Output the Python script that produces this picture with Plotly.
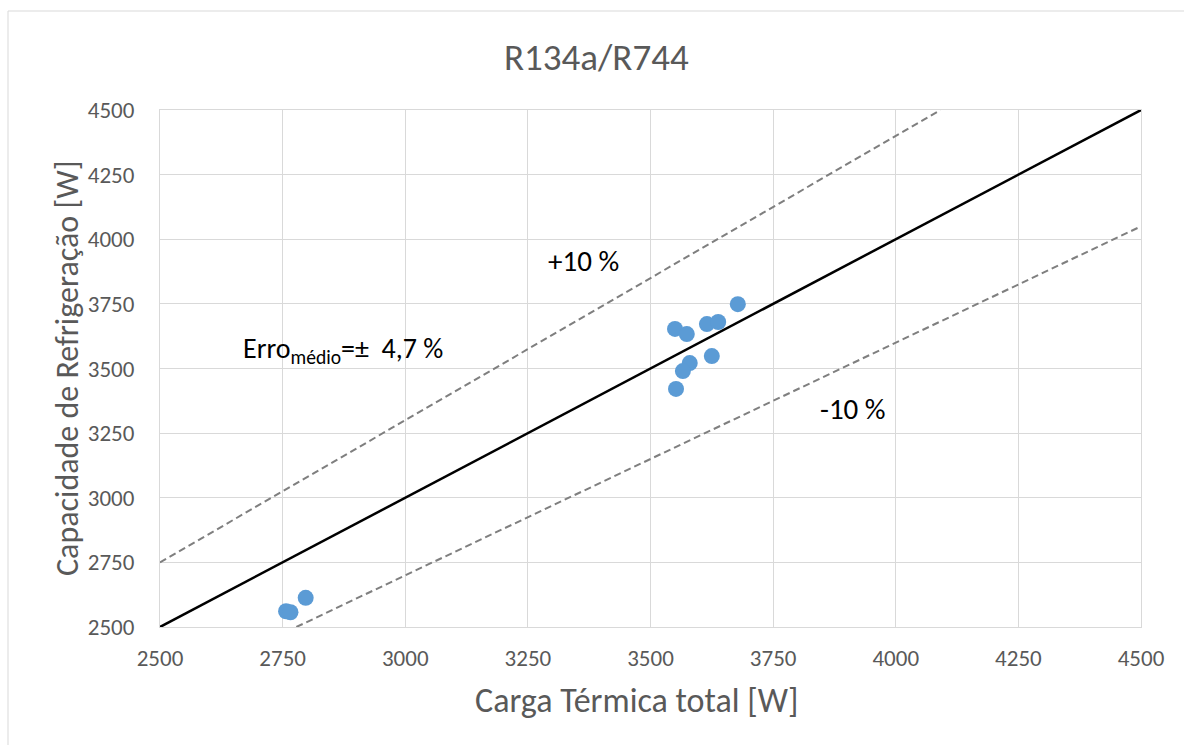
import plotly.graph_objects as go

# Measured points: total thermal load vs. refrigeration capacity [W]
carga_termica = [3678, 3550, 3574, 3615, 3638, 3625, 3580, 3566, 3552, 2757, 2766, 2797]
capacidade = [3749, 3653, 3633, 3672, 3680, 3548, 3521, 3490, 3421, 2561, 2557, 2613]

# Reference lines: ideal agreement and ±10 % bands
ideal_x = [2500, 4500]
ideal_y = [2500, 4500]
mais10_x = [2500, 4091]
mais10_y = [2750, 4500]
menos10_x = [2778, 4500]
menos10_y = [2500, 4050]

ticks = [2500, 2750, 3000, 3250, 3500, 3750, 4000, 4250, 4500]
tick_text = [str(t) for t in ticks]

FONT = "Carlito, Calibri, Lato, sans-serif"
GRID = "#D9D9D9"
TXT = "#595959"

fig = go.Figure()
fig.add_trace(go.Scatter(x=mais10_x, y=mais10_y, mode="lines",
                         line=dict(color="#7F7F7F", width=2, dash="7px,4px"),
                         hoverinfo="skip"))
fig.add_trace(go.Scatter(x=menos10_x, y=menos10_y, mode="lines",
                         line=dict(color="#7F7F7F", width=2, dash="7px,4px"),
                         hoverinfo="skip"))
fig.add_trace(go.Scatter(x=ideal_x, y=ideal_y, mode="lines",
                         line=dict(color="black", width=2.5), hoverinfo="skip"))
fig.add_trace(go.Scatter(x=carga_termica, y=capacidade, mode="markers",
                         marker=dict(color="#5B9BD5", size=16, line=dict(width=0))))

W, H = 1184, 745
L, R, T, B = 160, 43, 110, 118
pw, ph = W - L - R, H - T - B

def px(x):
    return (x - L) / pw

def py(y):
    return (H - B - y) / ph

fig.update_layout(
    width=W, height=H,
    margin=dict(l=L, r=R, t=T, b=B),
    paper_bgcolor="white", plot_bgcolor="white",
    showlegend=False,
    font=dict(family=FONT, color=TXT),
    xaxis=dict(range=[2500, 4500], tickvals=ticks, ticktext=tick_text,
               showgrid=True, gridcolor=GRID, gridwidth=1,
               showline=True, linecolor=GRID, linewidth=1, mirror=True,
               zeroline=False, ticks="", ticklabelstandoff=10,
               tickfont=dict(size=23, color=TXT, family=FONT)),
    yaxis=dict(range=[2500, 4500], tickvals=ticks, ticktext=tick_text,
               showgrid=True, gridcolor=GRID, gridwidth=1,
               showline=True, linecolor=GRID, linewidth=1, mirror=True,
               zeroline=False, ticks="", ticklabelstandoff=20,
               tickfont=dict(size=23, color=TXT, family=FONT)),
    shapes=[dict(type="rect", xref="paper", yref="paper",
                 x0=px(8), x1=px(1200), y0=py(760), y1=py(11),
                 line=dict(color=GRID, width=1), fillcolor="rgba(0,0,0,0)",
                 layer="below")],
    annotations=[
        dict(text="R134a/R744", xref="paper", yref="paper", x=px(596), y=py(57),
             showarrow=False, font=dict(size=37, color=TXT, family=FONT),
             xanchor="center", yanchor="middle"),
        dict(text="Carga Térmica total [W]", xref="paper", yref="paper",
             x=px(636), y=py(700), showarrow=False,
             font=dict(size=34, color=TXT, family=FONT),
             xanchor="center", yanchor="middle"),
        dict(text="Capacidade de Refrigeração [W]", xref="paper", yref="paper",
             x=px(67), y=py(368), showarrow=False, textangle=-90,
             font=dict(size=32, color=TXT, family=FONT),
             xanchor="center", yanchor="middle"),
        dict(text="+10 %", x=3364, y=3916, showarrow=False,
             font=dict(size=29, color="black", family=FONT)),
        dict(text="-10 %", x=3913, y=3343, showarrow=False,
             font=dict(size=29, color="black", family=FONT)),
        dict(text="Erro<sub>médio</sub>=±  4,7 %", x=2873, y=3571, showarrow=False,
             font=dict(size=28, color="black", family=FONT)),
    ],
)

fig.write_html("out.html")
